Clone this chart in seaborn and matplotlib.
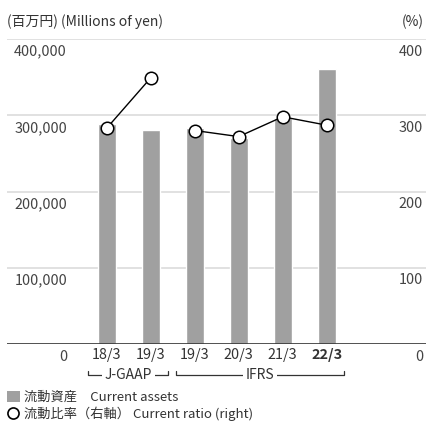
import numpy as np
import pandas as pd
import matplotlib
matplotlib.use("Agg")
import matplotlib.pyplot as plt
import matplotlib.transforms as mtransforms
from matplotlib.patches import Patch
from matplotlib.lines import Line2D
import seaborn as sns

# data
periods = ["18/3", "19/3", "19/3", "20/3", "21/3", "22/3"]
standard = ["J-GAAP", "J-GAAP", "IFRS", "IFRS", "IFRS", "IFRS"]
current_assets = [289000, 281000, 283000, 270000, 297000, 361000]  # millions of yen
current_ratio = [283, 349, 280, 272, 298, 287]  # %
left_ticks = [0, 100000, 200000, 300000, 400000]
right_ticks = [0, 100, 200, 300, 400]

sns.set_theme(style="white")
plt.rcParams['font.family'] = ['Noto Sans CJK JP', 'DejaVu Sans']
txt = "#444444"
dark = "#333333"
bar_col = "#a0a0a0"
fs_tick = 10.4
fs_leg = 9.5

df = pd.DataFrame({"pos": np.arange(len(periods)),
                   "assets": current_assets, "ratio": current_ratio, "std": standard})

fig = plt.figure(figsize=(4.26, 4.21), dpi=100)
ax = fig.add_axes([7/426, 77/421, 419/426, 305/421])

sns.barplot(data=df, x="pos", y="assets", color=bar_col, width=0.41, ax=ax,
            saturation=1, native_scale=True, errorbar=None)
ax.set_ylim(0, 400000)
ax.set_xlim(-2.266, 7.257)

# gridlines
for v in left_ticks[1:]:
    ax.axhline(v, color="#dcdcdc", lw=1.2, zorder=0)
ax.axhline(0, color=dark, lw=1.2, zorder=3)

for s in ax.spines.values():
    s.set_visible(False)
ax.set_yticks([])
ax.set_xlabel("")
ax.set_ylabel("")
ax.set_xticks(df["pos"])
ax.set_xticklabels(periods, fontsize=fs_tick, color=dark)
ax.tick_params(axis="x", length=0, pad=3)
ax.get_xticklabels()[-1].set_fontweight("bold")

ax2 = ax.twinx()
for std in ["J-GAAP", "IFRS"]:
    sub = df[df["std"] == std]
    sns.lineplot(data=sub, x="pos", y="ratio", color="black", lw=1, marker="o",
                 markersize=9, markerfacecolor="white", markeredgecolor="black",
                 markeredgewidth=1.1, ax=ax2, zorder=5)
ax2.set_ylim(0, 400)
ax2.set_xlim(-2.266, 7.257)
ax2.set_yticks([])
ax2.set_ylabel("")
ax2.set_xlabel("")
for s in ax2.spines.values():
    s.set_visible(False)

# y labels sit just below each gridline
ltr = mtransforms.blended_transform_factory(fig.transFigure, ax.transData)
off = 16500
for v in left_ticks:
    ax.text(67/426, v - off, f"{v:,}", transform=ltr, ha="right", va="center",
            fontsize=fs_tick, color=txt, clip_on=False)
rtr = mtransforms.blended_transform_factory(fig.transFigure, ax2.transData)
for v in right_ticks:
    ax2.text(423/426, v - off/1000, f"{v}", transform=rtr, ha="right", va="center",
             fontsize=fs_tick, color=txt, clip_on=False)

fig.text(7/426, 1 - 22/421, "(百万円) (Millions of yen)", ha="left", va="center",
         fontsize=10, color=dark)
fig.text(424/426, 1 - 22/421, "(%)", ha="right", va="center", fontsize=10, color=dark)

# accounting standard brackets
btr = mtransforms.blended_transform_factory(ax.transData, ax.transAxes)
y_line, y_tip = -0.1016, -0.0885
for std in ["J-GAAP", "IFRS"]:
    p = df.loc[df["std"] == std, "pos"]
    x0, x1 = p.min() - 0.42, p.max() + 0.4
    ax.plot([x0, x0, x1, x1], [y_tip, y_line, y_line, y_tip], color=dark, lw=0.9,
            transform=btr, clip_on=False)
    ax.text((x0 + x1) / 2, y_line, std, transform=btr, ha="center", va="center",
            fontsize=10, color=dark, clip_on=False,
            bbox=dict(facecolor="white", edgecolor="none", pad=2))

handles = [Patch(facecolor=bar_col, edgecolor="none"),
           Line2D([], [], marker="o", color="none", markerfacecolor="white",
                  markeredgecolor="black", markeredgewidth=1.2, markersize=8)]
labels = ["流動資産　Current assets", "流動比率（右軸） Current ratio (right)"]
fig.legend(handles, labels, loc="upper left", bbox_to_anchor=(0.0, 1 - 384/421),
           frameon=False, fontsize=fs_leg, handlelength=1.0, handleheight=1.0,
           handletextpad=0.3, labelspacing=0.2, borderpad=0.2, borderaxespad=0.3,
           labelcolor=dark)

fig.savefig("out.png", dpi=100)
